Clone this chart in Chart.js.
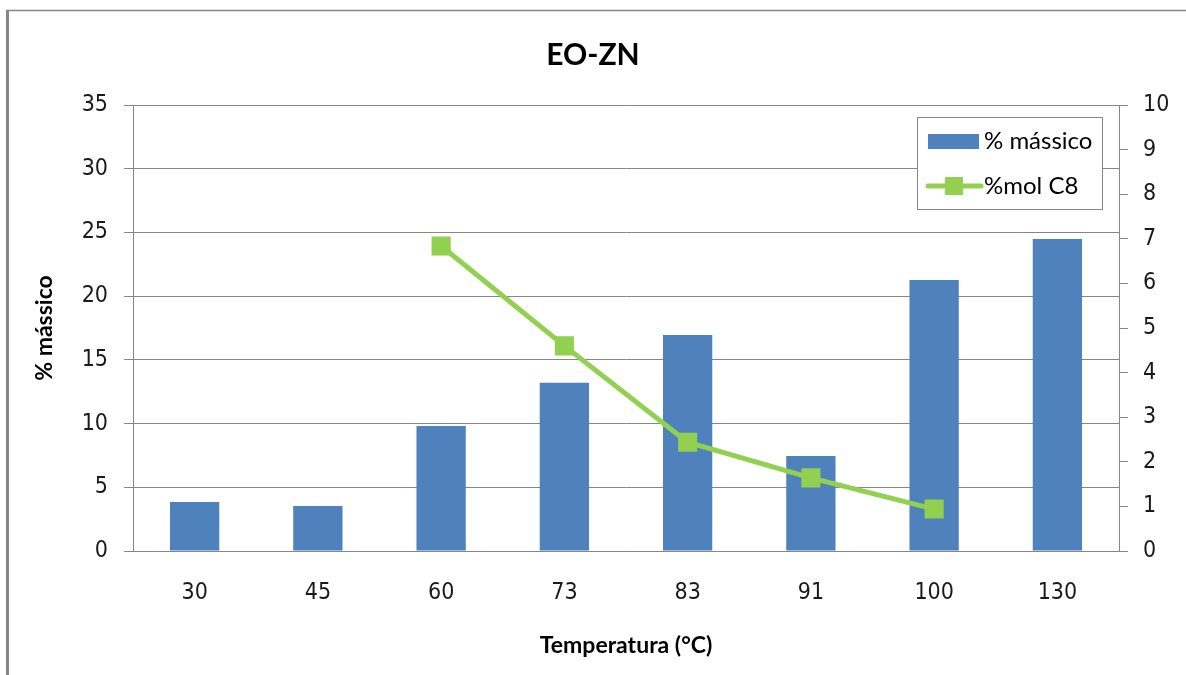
<!DOCTYPE html>
<html>
<head>
<meta charset="utf-8">
<title>EO-ZN</title>
<script src="https://cdn.jsdelivr.net/npm/chart.js@4.4.1/dist/chart.umd.min.js"></script>
<style>
  html, body { margin: 0; padding: 0; background: #ffffff; }
  canvas { display: block; }
</style>
</head>
<body>
<canvas id="chart" width="1186" height="675"></canvas>
<script>
// Temperature categories (°C)
const temperaturas = ['30', '45', '60', '73', '83', '91', '100', '130'];
// Mass percentage per temperature (left axis)
const masico = [3.85, 3.53, 9.81, 13.2, 16.95, 7.46, 21.27, 24.49];
// Mole percentage of C8 (right axis); no value for the first two temperatures
const molC8 = [null, null, 6.84, 4.6, 2.44, 1.64, 0.94, null];

const BLUE = '#4F81BD';
const GREEN = '#92D050';
const GRID = '#868686';
const TICK_FONT = { family: "'DejaVu Sans Condensed', 'DejaVu Sans', sans-serif", size: 23 };
const TICK_COLOR = '#1a1a1a';
const AXIS_TITLE_FONT = { family: 'Lato', size: 23, weight: 'bold', lineHeight: 1.2 };

// Outer frame of the chart object (left and top edges)
const framePlugin = {
  id: 'frame',
  beforeDraw(chart) {
    const ctx = chart.ctx;
    ctx.save();
    ctx.fillStyle = '#ffffff';
    ctx.fillRect(0, 0, chart.width, chart.height);
    ctx.strokeStyle = GRID;
    ctx.lineWidth = 3;
    ctx.beginPath();
    ctx.moveTo(7.5, 10);
    ctx.lineTo(7.5, chart.height);
    ctx.stroke();
    ctx.lineWidth = 1.5;
    ctx.beginPath();
    ctx.moveTo(6, 10.5);
    ctx.lineTo(chart.width, 10.5);
    ctx.stroke();
    ctx.restore();
  }
};

// Boxed legend inside the upper right corner of the plot area
const legendBoxPlugin = {
  id: 'legendBox',
  afterDatasetsDraw(chart) {
    const ctx = chart.ctx;
    const area = chart.chartArea;
    const x0 = area.right - 202, y0 = area.top + 12, w = 185, h = 92;
    ctx.save();
    ctx.fillStyle = '#ffffff';
    ctx.fillRect(x0, y0, w, h);
    ctx.strokeStyle = GRID;
    ctx.lineWidth = 1;
    ctx.strokeRect(x0 + 0.5, y0 + 0.5, w, h);

    const bars = chart.data.datasets[1];
    const line = chart.data.datasets[0];
    const row1 = y0 + 24, row2 = y0 + 69;
    const sx = x0 + 11, sw = 51;

    ctx.fillStyle = bars.backgroundColor;
    ctx.fillRect(sx, row1 - 7, sw, 15);

    ctx.strokeStyle = line.borderColor;
    ctx.lineWidth = 5;
    ctx.lineCap = 'round';
    ctx.beginPath();
    ctx.moveTo(sx, row2);
    ctx.lineTo(sx + sw + 2, row2);
    ctx.stroke();
    ctx.fillStyle = line.pointBackgroundColor;
    ctx.fillRect(sx + 17, row2 - 9, 18, 18);

    ctx.fillStyle = '#000000';
    ctx.font = '24px Lato';
    ctx.textBaseline = 'middle';
    ctx.textAlign = 'left';
    ctx.fillText(bars.label, sx + sw + 5, row1);
    ctx.fillText(line.label, sx + sw + 5, row2);
    ctx.restore();
  }
};

new Chart(document.getElementById('chart'), {
  data: {
    labels: temperaturas,
    datasets: [
      {
        type: 'line',
        label: '%mol C8',
        data: molC8,
        yAxisID: 'y1',
        borderColor: GREEN,
        backgroundColor: GREEN,
        borderWidth: 5,
        pointStyle: 'rect',
        pointRadius: 13.5,
        pointHoverRadius: 13.5,
        pointBackgroundColor: GREEN,
        pointBorderColor: GREEN,
        pointBorderWidth: 0,
        tension: 0,
        order: 0
      },
      {
        type: 'bar',
        label: '% mássico',
        data: masico,
        yAxisID: 'y',
        backgroundColor: BLUE,
        borderWidth: 0,
        barPercentage: 0.4,
        categoryPercentage: 1,
        order: 1
      }
    ]
  },
  options: {
    responsive: false,
    devicePixelRatio: 1,
    animation: false,
    layout: { padding: 0 },
    plugins: {
      legend: { display: false },
      tooltip: { enabled: false },
      title: {
        display: true,
        text: 'EO-ZN',
        color: '#000000',
        font: { family: 'Lato', size: 30, weight: 'bold', lineHeight: 1.2 },
        padding: { top: 37, bottom: 32 }
      }
    },
    scales: {
      x: {
        grid: { display: false, drawTicks: false },
        border: { display: true, color: GRID, width: 1 },
        ticks: { color: TICK_COLOR, font: TICK_FONT, padding: 28, maxRotation: 0 },
        title: {
          display: true,
          text: 'Temperatura (°C)',
          color: '#000000',
          font: AXIS_TITLE_FONT,
          padding: { top: 0, bottom: 16 }
        },
        afterFit(scale) { scale.height = 124; }
      },
      y: {
        position: 'left',
        min: 0,
        max: 35,
        ticks: { stepSize: 5, color: TICK_COLOR, font: TICK_FONT, padding: 16 },
        grid: { color: GRID, lineWidth: 1, drawTicks: true, tickLength: 9, tickColor: GRID },
        border: { display: true, color: GRID, width: 1 },
        title: {
          display: true,
          text: '% mássico',
          color: '#000000',
          font: AXIS_TITLE_FONT,
          padding: { top: 31, bottom: 0 }
        },
        afterFit(scale) { scale.width = 133; }
      },
      y1: {
        position: 'right',
        min: 0,
        max: 10,
        ticks: { stepSize: 1, color: TICK_COLOR, font: TICK_FONT, padding: 15 },
        grid: { drawOnChartArea: false, drawTicks: true, tickLength: 9, color: GRID, tickColor: GRID },
        border: { display: true, color: GRID, width: 1 },
        afterFit(scale) { scale.width = 67; }
      }
    }
  },
  plugins: [framePlugin, legendBoxPlugin]
});
</script>
</body>
</html>
